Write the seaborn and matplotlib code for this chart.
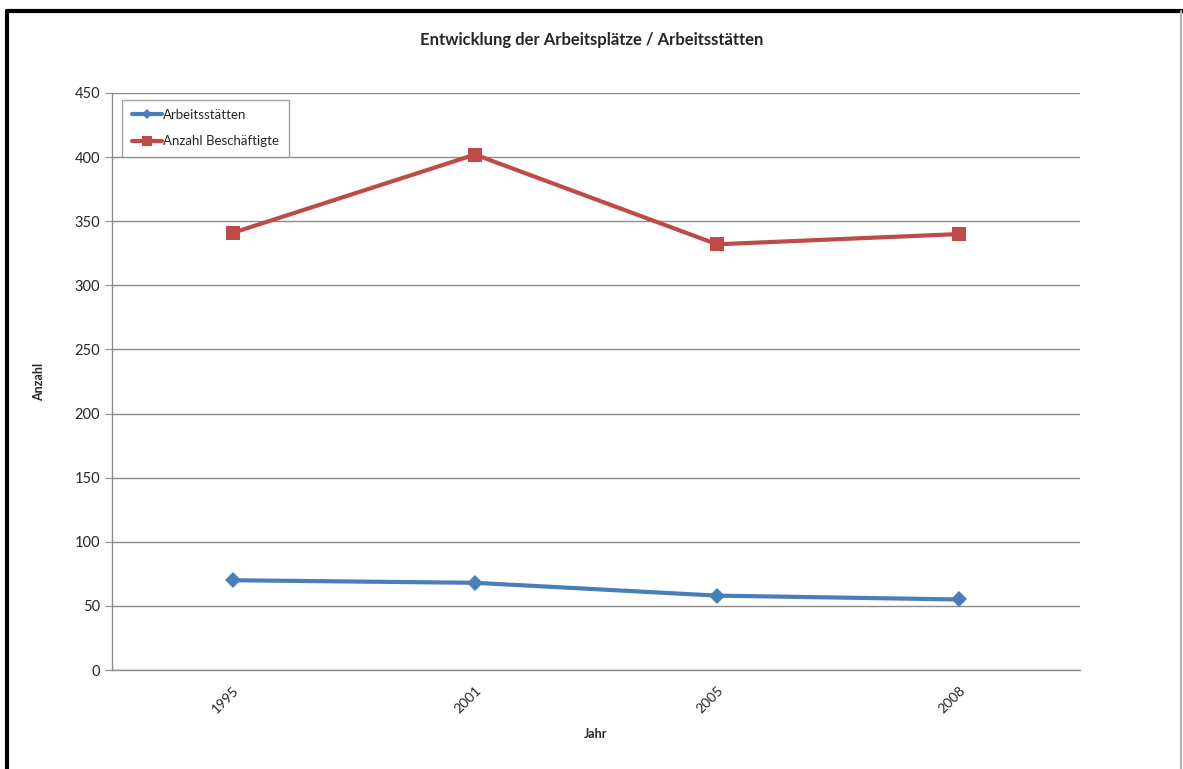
import matplotlib
matplotlib.use("Agg")
import matplotlib.pyplot as plt
from matplotlib.lines import Line2D
import numpy as np
import pandas as pd
import seaborn as sns

years = ["1995", "2001", "2005", "2008"]
arbeitsstaetten = [70, 68, 58, 55]
beschaeftigte = [341, 402, 332, 340]
series_names = ["Arbeitsstätten", "Anzahl Beschäftigte"]
colors = ["#4a7ebb", "#be4b48"]

df = pd.concat([
    pd.DataFrame({"pos": np.arange(len(years)), "Anzahl": arbeitsstaetten, "Reihe": series_names[0]}),
    pd.DataFrame({"pos": np.arange(len(years)), "Anzahl": beschaeftigte, "Reihe": series_names[1]}),
])

sns.set_style("white")
plt.rcParams["font.family"] = ["Lato", "DejaVu Sans"]

fig = plt.figure(figsize=(11.83, 7.69), dpi=100)
ax = fig.add_axes([112 / 1183, 1 - 670 / 769, (1080 - 112) / 1183, (670 - 93) / 769])

sns.lineplot(data=df, x="pos", y="Anzahl", hue="Reihe", style="Reihe",
             palette=colors, markers=["D", "s"], dashes=False,
             linewidth=3, markersize=9, markeredgewidth=0, ax=ax, legend=False)
# Excel draws the diamonds a bit smaller than the squares
ax.lines[0].set_markersize(8)
ax.lines[1].set_markersize(10)

ax.set_xlim(-0.5, len(years) - 0.5)
ax.set_ylim(0, 450)
ax.set_yticks(np.arange(0, 451, 50))
ax.grid(axis="y", color="#8c8c8c", linewidth=1)
ax.set_axisbelow(True)

ax.set_xticks(np.arange(len(years)))
ax.set_xticklabels(years, rotation=45, ha="right", rotation_mode="anchor", fontsize=10)
ax.set_xticks(np.arange(-0.5, len(years)), minor=True)
ax.tick_params(axis="x", which="major", length=0, pad=10)
ax.tick_params(axis="x", which="minor", length=5, color="#8c8c8c", direction="out")
ax.tick_params(axis="y", length=5, color="#8c8c8c", direction="out", labelsize=10.5, left=True)

for side in ["top", "right"]:
    ax.spines[side].set_visible(False)
for side in ["left", "bottom"]:
    ax.spines[side].set_color("#8c8c8c")
    ax.spines[side].set_linewidth(1)

ax.set_xlabel("Jahr", fontsize=9, fontweight="bold", labelpad=9)
ax.set_ylabel("Anzahl", fontsize=9, fontweight="bold", labelpad=21)
fig.text(0.5, 1 - 40 / 769, "Entwicklung der Arbeitsplätze / Arbeitsstätten",
         ha="center", va="center", fontsize=12, fontweight="bold")

handles = [Line2D([0], [0], color=colors[0], marker="D", lw=3, markersize=5, markeredgewidth=0),
           Line2D([0], [0], color=colors[1], marker="s", lw=3, markersize=7, markeredgewidth=0)]
leg = ax.legend(handles, series_names, loc="upper left", bbox_to_anchor=(0.004, 1.0),
                fontsize=9.5, frameon=True, fancybox=False, handlelength=2.3,
                handletextpad=0.1, labelspacing=1.1, borderpad=0.7)
leg.get_frame().set_edgecolor("#8c8c8c")
leg.get_frame().set_linewidth(1)

# outer frame
fig.add_artist(Line2D([7 / 1183, 7 / 1183], [0, 1 - 11 / 769], color="black", lw=3,
                      transform=fig.transFigure))
fig.add_artist(Line2D([7 / 1183, 1], [1 - 11 / 769, 1 - 11 / 769], color="black", lw=3,
                      transform=fig.transFigure))
fig.add_artist(Line2D([1181 / 1183, 1181 / 1183], [0, 1 - 11 / 769], color="#b0b0b0", lw=1.5,
                      transform=fig.transFigure))

fig.savefig("out.png", dpi=100)
